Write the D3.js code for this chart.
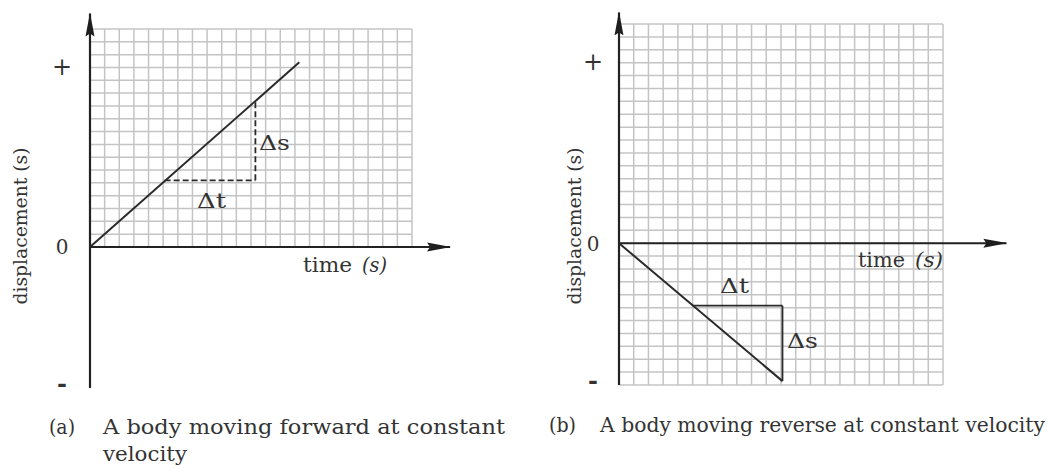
<!DOCTYPE html>
<html>
<head>
<meta charset="utf-8">
<script src="https://cdn.jsdelivr.net/npm/d3@7"></script>
<style>
body { margin: 0; background: #fff; }
text { font-family: "DejaVu Serif", serif; fill: #333; }
</style>
</head>
<body>
<svg id="chart" width="1050" height="468"></svg>
<script>
// grid size in cells (time columns, displacement rows)
var gridCols = 22;
var rowsAbove = 17;
var rowsBelow = 11;

// displacement tick marks
var yTickValues = [14.1, 0, -10.6];
var yTickLabels = ["+", "0", "-"];

// (a) forward: line and the dashed slope triangle
var lineA = [[0, 0], [14.3, 14.4]];
var dtA = [[5.1, 5.2], [11.3, 5.2]];
var dsA = [[11.3, 5.2], [11.3, 11.3]];

// (b) reverse: line and the solid slope triangle
var lineB = [[0, 0], [11.1, -10.7]];
var dtB = [[5.0, -4.85], [11.1, -4.85]];
var dsB = [[11.1, -4.85], [11.1, -10.7]];

var captionA = ["(a)", "A body moving forward at constant", "velocity"];
var captionB = ["(b)", "A body moving reverse at constant velocity"];

var svg = d3.select("#chart");

svg.append("defs").append("marker")
	.attr("id", "arrow")
	.attr("markerUnits", "userSpaceOnUse")
	.attr("viewBox", "0 0 24 10")
	.attr("markerWidth", 24)
	.attr("markerHeight", 10)
	.attr("refX", 23)
	.attr("refY", 5)
	.attr("orient", "auto")
	.append("path")
	.attr("d", "M0,0.5 L24,5 L0,9.5 L3,5 Z")
	.attr("fill", "#1e1e1e");

function label(g, txt, x, y, len, size, italic) {
	var t = g.append("text")
		.attr("x", x)
		.attr("y", y)
		.attr("font-size", size)
		.text(txt);
	if (len) t.attr("textLength", len).attr("lengthAdjust", "spacingAndGlyphs");
	if (italic) t.attr("font-style", "italic");
	return t;
}

function drawPanel(o) {
	var g = svg.append("g");
	var x = d3.scaleLinear().domain([0, gridCols]).range(o.xRange);
	var y = d3.scaleLinear().domain([-rowsBelow, rowsAbove]).range(o.yRange);

	// grid
	g.selectAll(".hgrid")
		.data(d3.range(o.gridFrom, rowsAbove + 1))
		.enter().append("line")
		.attr("x1", x(0)).attr("x2", x(gridCols))
		.attr("y1", d => y(d)).attr("y2", d => y(d))
		.attr("stroke", "#c4c4c6").attr("stroke-width", 1.5);
	g.selectAll(".vgrid")
		.data(d3.range(0, gridCols + 1))
		.enter().append("line")
		.attr("x1", d => x(d)).attr("x2", d => x(d))
		.attr("y1", y(o.gridFrom)).attr("y2", y(rowsAbove))
		.attr("stroke", "#c4c4c6").attr("stroke-width", 1.5);

	// axes with arrows
	g.append("line")
		.attr("x1", x(0)).attr("x2", x(o.xArrow))
		.attr("y1", y(0)).attr("y2", y(0))
		.attr("stroke", "#222").attr("stroke-width", 2)
		.attr("marker-end", "url(#arrow)");
	g.append("line")
		.attr("x1", x(0)).attr("x2", x(0))
		.attr("y1", y(-rowsBelow)).attr("y2", y(o.yArrow))
		.attr("stroke", "#222").attr("stroke-width", 2.2)
		.attr("marker-end", "url(#arrow)");

	// +, 0, - labels
	var ax = g.append("g")
		.attr("transform", "translate(" + x(0) + ",0)")
		.call(d3.axisLeft(y).tickValues(yTickValues)
			.tickFormat((d, i) => yTickLabels[i]).tickSize(0));
	ax.select(".domain").remove();
	ax.selectAll("text")
		.attr("font-size", (d, i) => i === 1 ? 20 : 24)
		.attr("font-weight", (d, i) => i === 2 ? "bold" : null)
		.attr("font-family", "DejaVu Serif, serif")
		.attr("fill", "#333")
		.attr("text-anchor", "middle")
		.attr("dy", "0.35em")
		.attr("x", -o.tickOffset);

	var path = d3.line().x(d => x(d[0])).y(d => y(d[1]));
	g.append("path").attr("d", path(o.line))
		.attr("fill", "none").attr("stroke", "#2a2a2a").attr("stroke-width", 2);
	[o.dt, o.ds].forEach(seg => {
		g.append("path").attr("d", path(seg))
			.attr("fill", "none").attr("stroke", "#2a2a2a").attr("stroke-width", 1.8)
			.attr("stroke-dasharray", o.dash);
	});

	// texts
	label(g, "displacement (s)", 0, 0, 157, 19)
		.attr("text-anchor", "middle")
		.attr("transform", "translate(" + o.yLabel[0] + "," + o.yLabel[1] + ") rotate(-90)");
	label(g, "time", o.time[0], o.time[1], o.time[2], 20);
	label(g, "(s)", o.timeS[0], o.time[1], o.timeS[1], 20, true).attr("fill", "#2d3a55");
	label(g, "\u0394t", o.dtLabel[0], o.dtLabel[1], 29, 21);
	label(g, "\u0394s", o.dsLabel[0], o.dsLabel[1], 31, 21);

	label(g, o.caption[0], o.capX[0], o.capY[0], o.capLen[0], 20);
	label(g, o.caption[1], o.capX[1], o.capY[0], o.capLen[1], 20);
	if (o.caption[2]) label(g, o.caption[2], o.capX[1], o.capY[1], o.capLen[2], 20);
}

drawPanel({
	xRange: [90, 412], yRange: [388, 29], gridFrom: 0,
	xArrow: 24.6, yArrow: 18.2, tickOffset: 28, dash: "6,3",
	line: lineA, dt: dtA, ds: dsA,
	yLabel: [27, 226], time: [303, 272, 49], timeS: [362, 25],
	dtLabel: [197, 208], dsLabel: [259, 150],
	caption: captionA, capX: [49, 103], capY: [434, 461], capLen: [26, 402, 84]
});

drawPanel({
	xRange: [619, 943], yRange: [385, 24], gridFrom: -rowsBelow,
	xArrow: 26.3, yArrow: 17.9, tickOffset: 26, dash: null,
	line: lineB, dt: dtB, ds: dsB,
	yLabel: [581, 226], time: [858, 267, 47], timeS: [915, 28],
	dtLabel: [720, 293], dsLabel: [787, 348],
	caption: captionB, capX: [549, 600], capY: [432], capLen: [27, 445]
});
</script>
</body>
</html>
